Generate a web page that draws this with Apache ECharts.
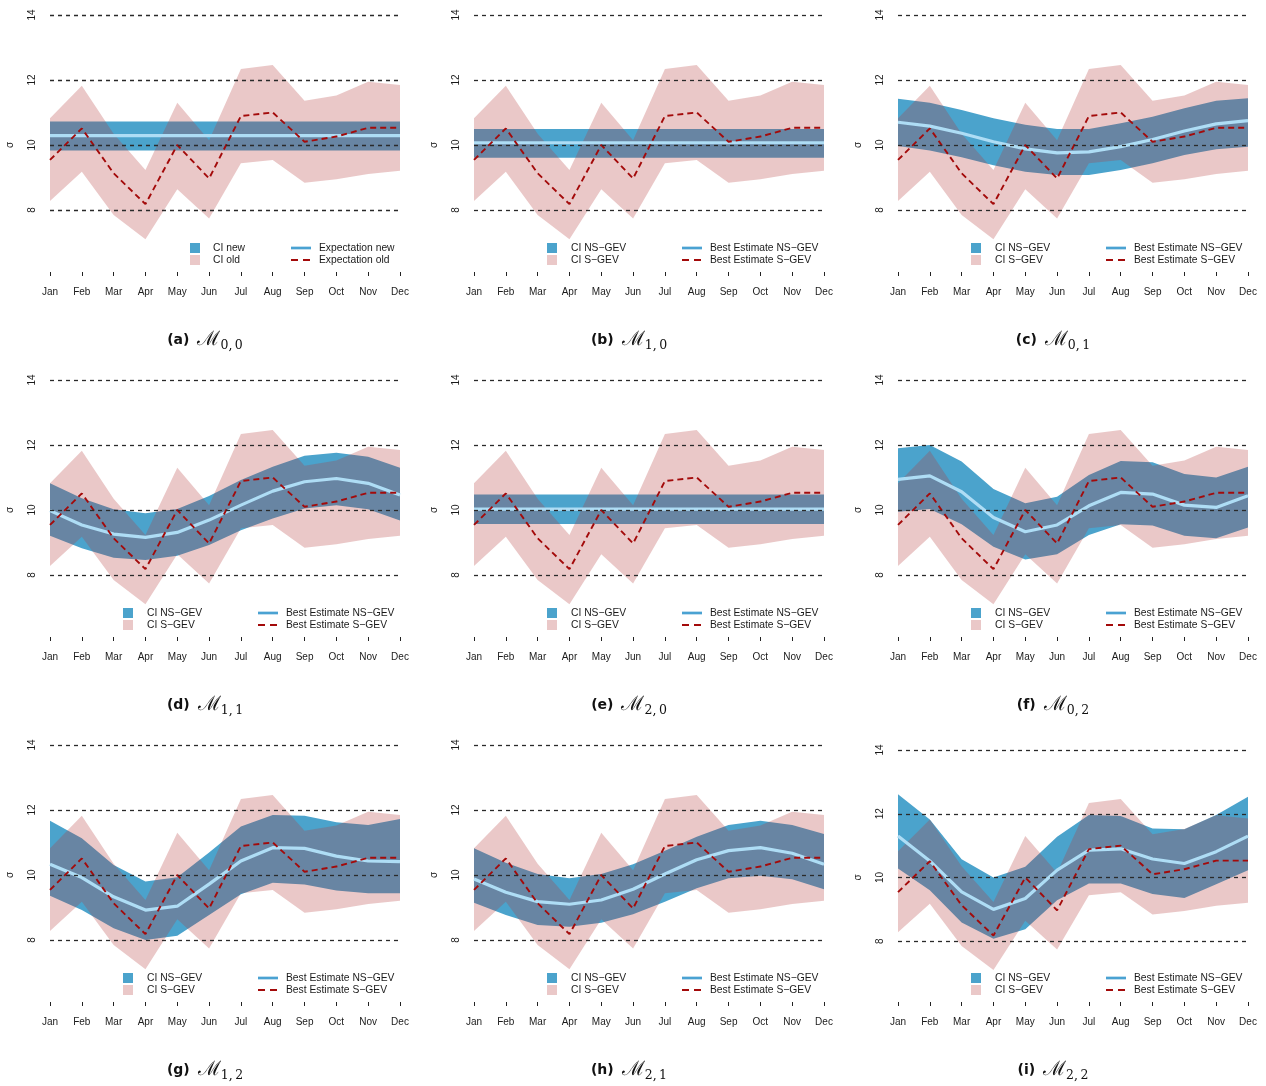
<!DOCTYPE html>
<html>
<head>
<meta charset="utf-8">
<title>Monthly scale parameter σ — NS-GEV vs S-GEV</title>
<script src="https://cdn.jsdelivr.net/npm/echarts@6/dist/echarts.min.js"></script>
<style>
  html, body { margin: 0; padding: 0; background: #ffffff; }
  #chart { width: 1266px; height: 1086px; }
</style>
</head>
<body>
<div id="chart"></div>
<script>
// ---- data -------------------------------------------------------------
const months = ['Jan', 'Feb', 'Mar', 'Apr', 'May', 'Jun', 'Jul', 'Aug', 'Sep', 'Oct', 'Nov', 'Dec'];
const sigmaTicks = [8, 10, 12, 14];

// stationary GEV (S-GEV): the same in every panel
const sgevLower = [8.28, 9.18, 7.85, 7.10, 8.64, 7.74, 9.44, 9.54, 8.84, 8.95, 9.11, 9.21];
const sgevUpper = [10.82, 11.82, 10.35, 9.23, 11.30, 10.15, 12.34, 12.46, 11.36, 11.52, 11.95, 11.85];
const sgevBest  = [9.54, 10.51, 9.13, 8.18, 10.00, 8.97, 10.89, 11.00, 10.10, 10.26, 10.53, 10.53];

// non-stationary GEV (NS-GEV), one fit per model M_{p,q}
const m00Lower = [9.83, 9.83, 9.83, 9.83, 9.83, 9.83, 9.83, 9.83, 9.83, 9.83, 9.83, 9.83];
const m00Upper = [10.72, 10.72, 10.72, 10.72, 10.72, 10.72, 10.72, 10.72, 10.72, 10.72, 10.72, 10.72];
const m00Best  = [10.29, 10.29, 10.29, 10.29, 10.29, 10.29, 10.29, 10.29, 10.29, 10.29, 10.29, 10.29];

const m10Lower = [9.61, 9.61, 9.61, 9.61, 9.61, 9.61, 9.61, 9.61, 9.61, 9.61, 9.61, 9.61];
const m10Upper = [10.49, 10.49, 10.49, 10.49, 10.49, 10.49, 10.49, 10.49, 10.49, 10.49, 10.49, 10.49];
const m10Best  = [10.07, 10.07, 10.07, 10.07, 10.07, 10.07, 10.07, 10.07, 10.07, 10.07, 10.07, 10.07];

const m01Lower = [9.97, 9.83, 9.62, 9.38, 9.18, 9.08, 9.08, 9.23, 9.44, 9.69, 9.87, 9.95];
const m01Upper = [11.42, 11.30, 11.08, 10.82, 10.62, 10.49, 10.49, 10.67, 10.87, 11.13, 11.36, 11.44];
const m01Best  = [10.70, 10.58, 10.36, 10.10, 9.88, 9.76, 9.79, 9.95, 10.17, 10.43, 10.65, 10.75];

const m11Lower = [9.21, 8.82, 8.53, 8.46, 8.59, 8.92, 9.38, 9.74, 10.05, 10.15, 10.02, 9.68];
const m11Upper = [10.82, 10.36, 10.02, 9.90, 10.03, 10.43, 10.92, 11.33, 11.67, 11.76, 11.64, 11.30];
const m11Best  = [9.98, 9.54, 9.26, 9.16, 9.31, 9.69, 10.15, 10.58, 10.87, 10.97, 10.82, 10.46];

const m20Lower = [9.57, 9.57, 9.57, 9.57, 9.57, 9.57, 9.57, 9.57, 9.57, 9.57, 9.57, 9.57];
const m20Upper = [10.48, 10.48, 10.48, 10.48, 10.48, 10.48, 10.48, 10.48, 10.48, 10.48, 10.48, 10.48];
const m20Best  = [10.03, 10.03, 10.03, 10.03, 10.03, 10.03, 10.03, 10.03, 10.03, 10.03, 10.03, 10.03];

const m02Lower = [9.95, 10.03, 9.56, 8.87, 8.48, 8.64, 9.23, 9.56, 9.52, 9.21, 9.13, 9.46];
const m02Upper = [11.90, 12.00, 11.49, 10.65, 10.21, 10.41, 11.08, 11.51, 11.47, 11.11, 11.00, 11.33];
const m02Best  = [10.94, 11.05, 10.56, 9.77, 9.33, 9.54, 10.13, 10.54, 10.49, 10.15, 10.08, 10.44];

const m12Lower = [9.36, 8.92, 8.36, 8.00, 8.13, 8.77, 9.41, 9.76, 9.71, 9.52, 9.44, 9.44];
const m12Upper = [11.67, 11.13, 10.31, 9.80, 9.93, 10.69, 11.49, 11.85, 11.82, 11.62, 11.54, 11.72];
const m12Best  = [10.33, 9.92, 9.33, 8.92, 9.04, 9.72, 10.43, 10.84, 10.82, 10.58, 10.43, 10.41];

const m21Lower = [9.15, 8.77, 8.46, 8.41, 8.53, 8.79, 9.18, 9.59, 9.90, 9.98, 9.87, 9.56];
const m21Upper = [10.82, 10.38, 10.03, 9.90, 10.03, 10.33, 10.75, 11.18, 11.54, 11.67, 11.54, 11.26];
const m21Best  = [9.88, 9.47, 9.18, 9.10, 9.23, 9.56, 10.03, 10.47, 10.75, 10.84, 10.67, 10.33];

const m22Lower = [10.28, 9.60, 8.59, 8.08, 8.38, 9.29, 9.81, 9.81, 9.48, 9.36, 9.79, 10.23];
const m22Upper = [12.61, 11.82, 10.57, 10.00, 10.34, 11.28, 11.96, 11.93, 11.54, 11.51, 11.96, 12.53];
const m22Best  = [11.30, 10.52, 9.55, 9.00, 9.34, 10.23, 10.86, 10.90, 10.58, 10.44, 10.81, 11.30];

const legendNew = ['CI new', 'CI old', 'Expectation new', 'Expectation old'];
const legendGev = ['CI NS\u2212GEV', 'CI S\u2212GEV', 'Best Estimate NS\u2212GEV', 'Best Estimate S\u2212GEV'];

// ---- panel layout (3 x 3) ---------------------------------------------
const panels = [
  { tag: '(a)', sub: '0,\u20090', lo: m00Lower, up: m00Upper, best: m00Best, names: legendNew },
  { tag: '(b)', sub: '1,\u20090', lo: m10Lower, up: m10Upper, best: m10Best, names: legendGev },
  { tag: '(c)', sub: '0,\u20091', lo: m01Lower, up: m01Upper, best: m01Best, names: legendGev },
  { tag: '(d)', sub: '1,\u20091', lo: m11Lower, up: m11Upper, best: m11Best, names: legendGev },
  { tag: '(e)', sub: '2,\u20090', lo: m20Lower, up: m20Upper, best: m20Best, names: legendGev },
  { tag: '(f)', sub: '0,\u20092', lo: m02Lower, up: m02Upper, best: m02Best, names: legendGev },
  { tag: '(g)', sub: '1,\u20092', lo: m12Lower, up: m12Upper, best: m12Best, names: legendGev },
  { tag: '(h)', sub: '2,\u20091', lo: m21Lower, up: m21Upper, best: m21Best, names: legendGev },
  { tag: '(i)', sub: '2,\u20092', lo: m22Lower, up: m22Upper, best: m22Best, names: legendGev }
];

const COL_W = 424, ROW_H = 365;
const BLUE = '#4BA3CC';
const PINK = 'rgba(180, 59, 59, 0.28)';
const LIGHT_BLUE = '#AEDDF5';
const DARK_RED = '#A30A0A';
const FONT = '"Liberation Sans", Arial, Helvetica, sans-serif';

const grids = [], xAxes = [], yAxes = [], series = [], graphics = [];

panels.forEach((p, k) => {
  const col = k % 3, row = Math.floor(k / 3);
  const x0 = col * COL_W, y0 = row * ROW_H;
  const last = k === 8;

  grids.push({
    left: 50 + x0, width: 350,
    top: last ? 750 : 15 + y0,
    height: last ? 255 : 260
  });

  xAxes.push({
    type: 'category', gridIndex: k, data: months, boundaryGap: false,
    offset: -3,
    axisLine: { show: false },
    axisTick: { show: true, length: 4, interval: 0, lineStyle: { color: '#222', width: 1 } },
    axisLabel: { interval: 0, fontSize: 10, color: '#1a1a1a', margin: 15, fontFamily: FONT },
    splitLine: { show: false }
  });

  yAxes.push({
    type: 'value', gridIndex: k, min: 6, max: 14, interval: 2,
    axisLine: { show: false }, axisTick: { show: false }, splitLine: { show: false },
    axisLabel: { rotate: 90, showMinLabel: false, fontSize: 10, color: '#1a1a1a', margin: 13, fontFamily: FONT },
    name: '\u03c3', nameLocation: 'middle', nameRotate: 90, nameGap: 35,
    nameTextStyle: { fontSize: 10, color: '#1a1a1a', fontFamily: FONT }
  });

  const common = { xAxisIndex: k, yAxisIndex: k, type: 'line', symbol: 'none', silent: true, animation: false };
  const hidden = { opacity: 0, width: 0 };

  // NS-GEV confidence band (lower edge + stacked width)
  series.push(Object.assign({}, common, {
    name: p.names[0] + ' lower', stack: 'ns' + k, data: p.lo, lineStyle: hidden
  }));
  series.push(Object.assign({}, common, {
    name: p.names[0], stack: 'ns' + k,
    data: p.up.map((u, i) => +(u - p.lo[i]).toFixed(3)),
    lineStyle: hidden, areaStyle: { color: BLUE, opacity: 1 }
  }));
  // S-GEV confidence band, translucent over the NS band
  series.push(Object.assign({}, common, {
    name: p.names[1] + ' lower', stack: 's' + k, data: sgevLower, lineStyle: hidden
  }));
  series.push(Object.assign({}, common, {
    name: p.names[1], stack: 's' + k,
    data: sgevUpper.map((u, i) => +(u - sgevLower[i]).toFixed(3)),
    lineStyle: hidden, areaStyle: { color: PINK, opacity: 1 },
    markLine: {
      silent: true, symbol: 'none', animation: false,
      label: { show: false },
      lineStyle: { color: '#2a2a2a', width: 1.3, type: [4, 4] },
      data: sigmaTicks.map(v => ({ yAxis: v }))
    }
  }));
  // best estimates
  series.push(Object.assign({}, common, {
    name: p.names[2], data: p.best,
    lineStyle: { color: LIGHT_BLUE, width: 3.2 }
  }));
  series.push(Object.assign({}, common, {
    name: p.names[3], data: sgevBest,
    lineStyle: { color: DARK_RED, width: 1.9, type: [6, 4] }
  }));

  // legend block inside the panel
  const isA = k === 0;
  const sqX = isA ? 195 : 128, t1X = isA ? 213 : 147;
  const lX1 = isA ? 291 : 258, lX2 = isA ? 311 : 278, t2X = isA ? 319 : 286;
  const ly1 = y0 + 248, ly2 = y0 + 260;
  const txt = (x, y, s) => ({
    type: 'text', silent: true,
    style: { text: s, x: x0 + x, y: y, fill: '#1a1a1a', font: '10.3px ' + FONT, verticalAlign: 'middle', align: 'left' }
  });
  graphics.push(
    { type: 'rect', silent: true, shape: { x: x0 + sqX - 5, y: ly1 - 5, width: 10, height: 10 }, style: { fill: BLUE } },
    { type: 'rect', silent: true, shape: { x: x0 + sqX - 5, y: ly2 - 5, width: 10, height: 10 }, style: { fill: PINK } },
    txt(t1X, ly1, p.names[0]),
    txt(t1X, ly2, p.names[1]),
    { type: 'line', silent: true, shape: { x1: x0 + lX1, y1: ly1, x2: x0 + lX2, y2: ly1 }, style: { stroke: '#4AA2D2', lineWidth: 2.7 } },
    { type: 'line', silent: true, shape: { x1: x0 + lX1, y1: ly2, x2: x0 + lX2, y2: ly2 }, style: { stroke: DARK_RED, lineWidth: 1.8, lineDash: [7, 5] } },
    txt(t2X, ly1, p.names[2]),
    txt(t2X, ly2, p.names[3])
  );

  // sub-figure caption
  graphics.push({
    type: 'text', silent: true,
    style: {
      text: '{b|' + p.tag + '}{sp| }{m|\u2133}{s|' + p.sub + '}',
      x: 205 + x0, y: 340 + y0, align: 'center', verticalAlign: 'middle',
      rich: {
        b: { fontSize: 14, fontWeight: 'bold', fontFamily: '"DejaVu Sans", sans-serif', fill: '#111', lineHeight: 24 },
        sp: { fontSize: 14, width: 8, lineHeight: 24 },
        m: { fontSize: 20, fontFamily: '"DejaVu Serif", serif', fill: '#111', lineHeight: 24 },
        s: { fontSize: 12.5, fontFamily: '"DejaVu Serif", serif', fill: '#111', lineHeight: 24, verticalAlign: 'bottom' }
      }
    }
  });
});

const chart = echarts.init(document.getElementById('chart'), null, { renderer: 'canvas' });
chart.setOption({
  backgroundColor: '#ffffff',
  animation: false,
  grid: grids,
  xAxis: xAxes,
  yAxis: yAxes,
  series: series,
  graphic: graphics
});
</script>
</body>
</html>
